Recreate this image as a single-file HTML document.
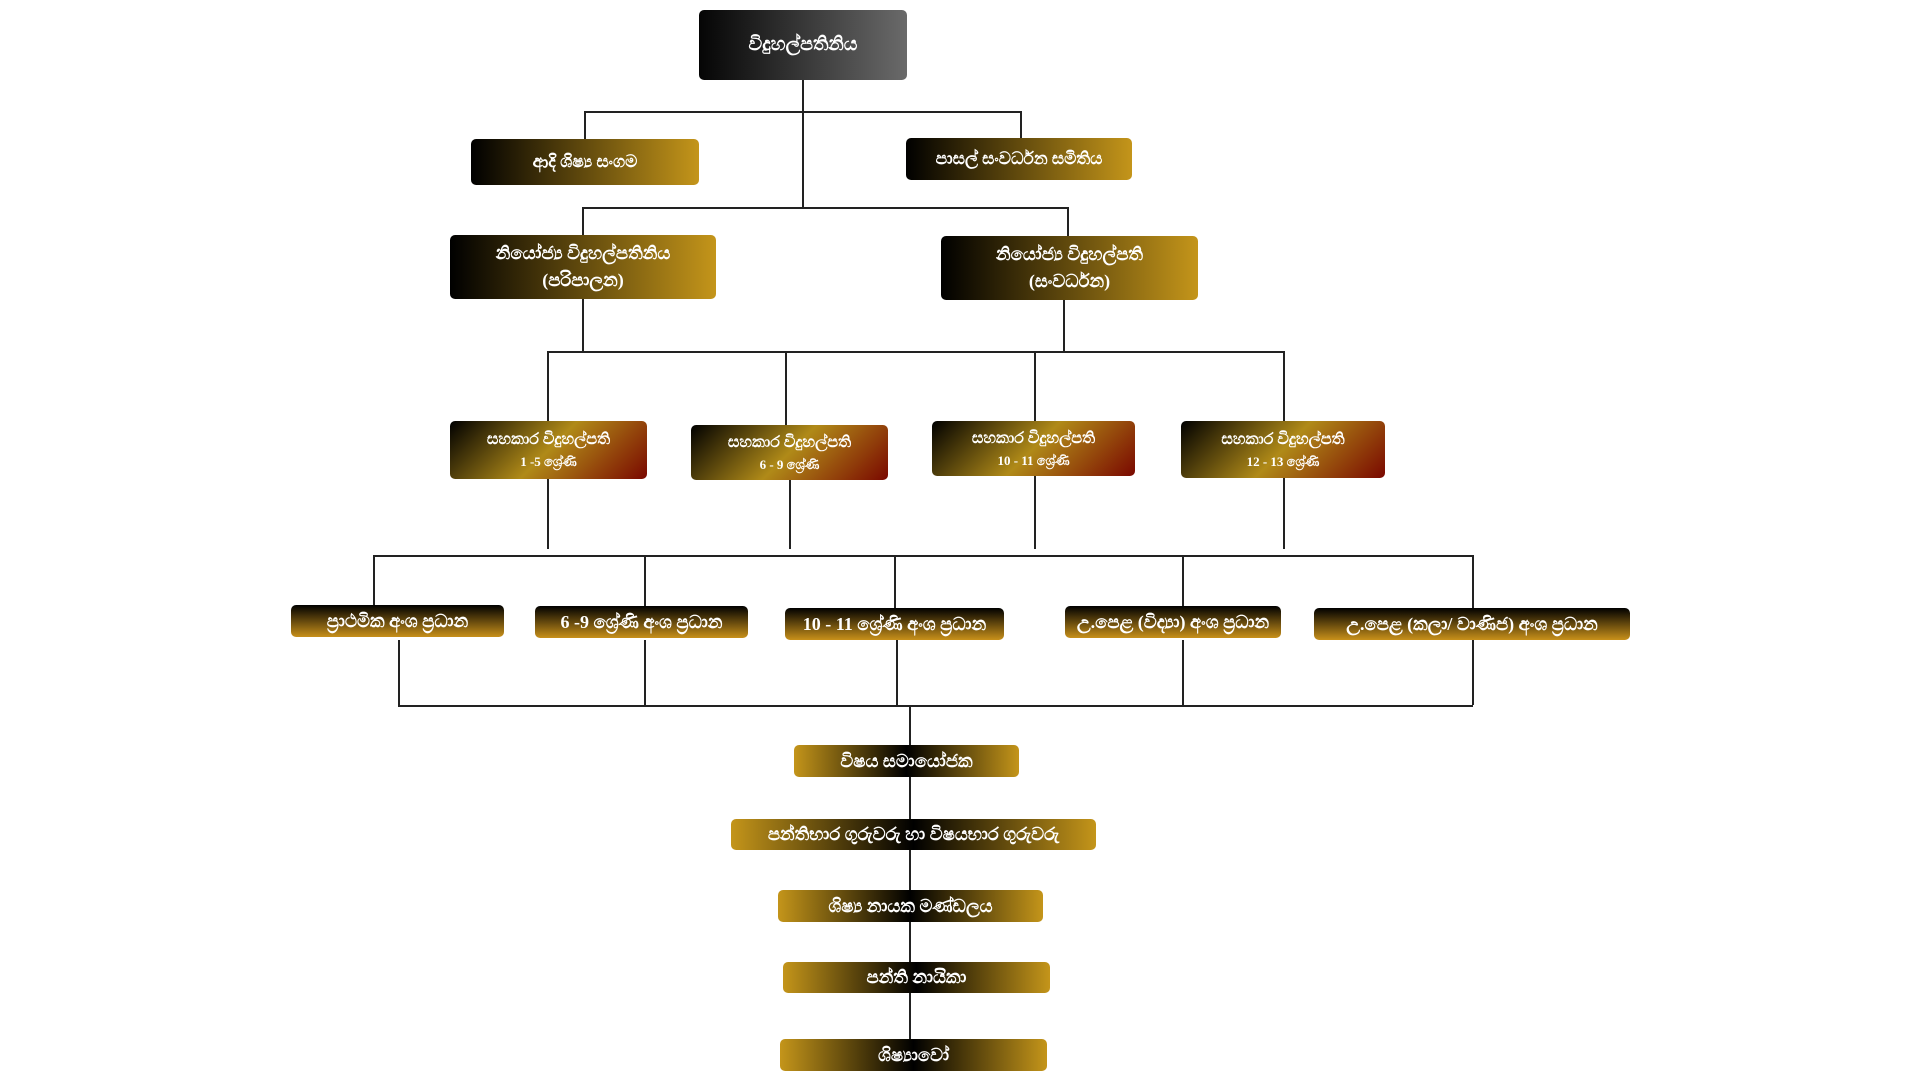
<!DOCTYPE html>
<html><head><meta charset="utf-8"><style>
body{margin:0;width:1920px;height:1080px;background:#fff;position:relative;overflow:hidden;font-family:"Liberation Serif","Noto Sans CJK SC",serif;}
.b{position:absolute;border-radius:5px;color:#fff;font-weight:bold;display:flex;align-items:center;justify-content:center;text-align:center;flex-direction:column;line-height:1.5;box-sizing:border-box}
.top{background:linear-gradient(90deg,#050505,#6a6a6a);font-size:19px}
.g{background:linear-gradient(90deg,#000,#c4951a);font-size:17px}
.r{background:linear-gradient(135deg,#000 0%,#b08a18 50%,#7a0800 100%);font-size:16px}
.r small{font-size:13px}
.v{background:linear-gradient(180deg,#000,#c8901a);font-size:18px}
.h{background:linear-gradient(90deg,#c4951a,#000 50%,#c4951a);font-size:18px}
.l{position:absolute;background:#222}
</style></head><body>
<div class="l" style="left:802px;top:80px;width:1.5px;height:128px"></div>
<div class="l" style="left:584px;top:111px;width:437px;height:1.5px"></div>
<div class="l" style="left:584px;top:111px;width:1.5px;height:28px"></div>
<div class="l" style="left:1020px;top:111px;width:1.5px;height:27px"></div>
<div class="l" style="left:582px;top:207px;width:486px;height:1.5px"></div>
<div class="l" style="left:582px;top:207px;width:1.5px;height:28px"></div>
<div class="l" style="left:1067px;top:207px;width:1.5px;height:29px"></div>
<div class="l" style="left:582px;top:299px;width:1.5px;height:52px"></div>
<div class="l" style="left:1063px;top:300px;width:1.5px;height:51px"></div>
<div class="l" style="left:547px;top:351px;width:736px;height:1.5px"></div>
<div class="l" style="left:547px;top:351px;width:1.5px;height:70px"></div>
<div class="l" style="left:785px;top:351px;width:1.5px;height:74px"></div>
<div class="l" style="left:1034px;top:351px;width:1.5px;height:70px"></div>
<div class="l" style="left:1283px;top:351px;width:1.5px;height:70px"></div>
<div class="l" style="left:547px;top:479px;width:1.5px;height:70px"></div>
<div class="l" style="left:789px;top:480px;width:1.5px;height:69px"></div>
<div class="l" style="left:1034px;top:476px;width:1.5px;height:73px"></div>
<div class="l" style="left:1283px;top:478px;width:1.5px;height:71px"></div>
<div class="l" style="left:373px;top:555px;width:1099px;height:1.5px"></div>
<div class="l" style="left:373px;top:555px;width:1.5px;height:53px"></div>
<div class="l" style="left:644px;top:555px;width:1.5px;height:53px"></div>
<div class="l" style="left:894px;top:555px;width:1.5px;height:53px"></div>
<div class="l" style="left:1182px;top:555px;width:1.5px;height:53px"></div>
<div class="l" style="left:1472px;top:555px;width:1.5px;height:53px"></div>
<div class="l" style="left:398px;top:640px;width:1.5px;height:65px"></div>
<div class="l" style="left:644px;top:640px;width:1.5px;height:65px"></div>
<div class="l" style="left:896px;top:640px;width:1.5px;height:65px"></div>
<div class="l" style="left:1182px;top:640px;width:1.5px;height:65px"></div>
<div class="l" style="left:1472px;top:640px;width:1.5px;height:65px"></div>
<div class="l" style="left:398px;top:705px;width:1075px;height:2px"></div>
<div class="l" style="left:909px;top:705px;width:1.5px;height:340px"></div>
<div class="b top" style="left:699px;top:10px;width:208px;height:70px">විදුහල්පතිනිය</div>
<div class="b g" style="left:471px;top:139px;width:228px;height:46px">ආදි ශිෂ්‍ය සංගම</div>
<div class="b g" style="left:906px;top:138px;width:226px;height:42px">පාසල් සංවර්ධන සමිතිය</div>
<div class="b g" style="left:450px;top:235px;width:266px;height:64px;font-size:18px"><div>නියෝජ්‍ය විදුහල්පතිනිය</div><div>(පරිපාලන)</div></div>
<div class="b g" style="left:941px;top:236px;width:257px;height:64px;font-size:18px"><div>නියෝජ්‍ය විදුහල්පති</div><div>(සංවර්ධන)</div></div>
<div class="b r" style="left:450px;top:421px;width:197px;height:58px"><div>සහකාර විදුහල්පති</div><small>1 -5 ශ්‍රේණි</small></div>
<div class="b r" style="left:691px;top:425px;width:197px;height:55px"><div>සහකාර විදුහල්පති</div><small>6 - 9 ශ්‍රේණි</small></div>
<div class="b r" style="left:932px;top:421px;width:203px;height:55px"><div>සහකාර විදුහල්පති</div><small>10 - 11 ශ්‍රේණි</small></div>
<div class="b r" style="left:1181px;top:421px;width:204px;height:57px"><div>සහකාර විදුහල්පති</div><small>12 - 13 ශ්‍රේණි</small></div>
<div class="b v" style="left:291px;top:605px;width:213px;height:32px">ප්‍රාථමික අංශ ප්‍රධාන</div>
<div class="b v" style="left:535px;top:606px;width:213px;height:32px">6 -9 ශ්‍රේණි අංශ ප්‍රධාන</div>
<div class="b v" style="left:785px;top:608px;width:219px;height:32px">10 - 11 ශ්‍රේණි අංශ ප්‍රධාන</div>
<div class="b v" style="left:1065px;top:606px;width:216px;height:32px">උ.පෙළ (විද්‍යා) අංශ ප්‍රධාන</div>
<div class="b v" style="left:1314px;top:608px;width:316px;height:32px">උ.පෙළ (කලා/ වාණිජ) අංශ ප්‍රධාන</div>
<div class="b h" style="left:794px;top:745px;width:225px;height:32px">විෂය සමායෝජක</div>
<div class="b h" style="left:731px;top:819px;width:365px;height:31px">පන්තිභාර ගුරුවරු හා විෂයභාර ගුරුවරු</div>
<div class="b h" style="left:778px;top:890px;width:265px;height:32px">ශිෂ්‍ය නායක මණ්ඩලය</div>
<div class="b h" style="left:783px;top:962px;width:267px;height:31px">පන්ති නායිකා</div>
<div class="b h" style="left:780px;top:1039px;width:267px;height:32px">ශිෂ්‍යාවෝ</div>
</body></html>
